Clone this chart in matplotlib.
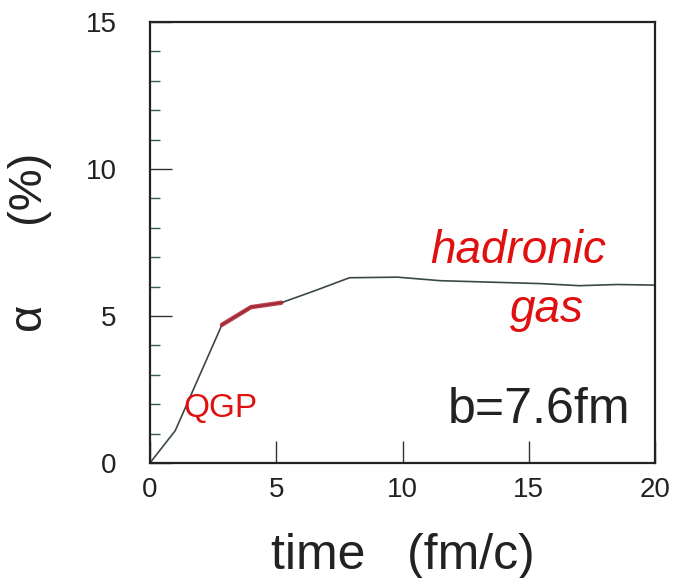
import matplotlib
matplotlib.use('Agg')
import matplotlib.pyplot as plt
from matplotlib.ticker import MultipleLocator

#
# DATA
#
time = [0, 1.0, 2.85, 4.0, 5.2, 6.5, 7.9, 9.8, 11.5, 13.5, 15.5, 17.0, 18.5, 20]
alpha = [0, 1.1, 4.7, 5.3, 5.45, 5.85, 6.3, 6.32, 6.2, 6.15, 6.1, 6.03, 6.07, 6.05]
marked = slice(2, 5)   # hand-marked part of the curve

x_ticks = [0, 5, 10, 15, 20]
y_ticks = [0, 5, 10, 15]

#
# FIGURE
#
plt.rcParams['font.family'] = ['Liberation Sans', 'DejaVu Sans']
fig = plt.figure(figsize=(6.75, 5.78), dpi=100)
ax = fig.add_axes([0.2222, 0.199, 0.7482, 0.763])

ax.plot(time, alpha, color='#3b4848', lw=1.2)
ax.plot(time[marked], alpha[marked], color='#b02030', lw=3.2, alpha=0.85,
        solid_capstyle='round')

ax.set_xlim(0, 20)
ax.set_ylim(0, 15)
ax.set_xticks(x_ticks)
ax.set_yticks(y_ticks)
ax.yaxis.set_minor_locator(MultipleLocator(1))
ax.tick_params(axis='both', which='major', direction='in', length=16, width=1.0,
               labelsize=20, color='#333333', labelcolor='#222222')
ax.tick_params(axis='x', which='major', pad=10)
ax.tick_params(axis='y', which='major', pad=24)
ax.tick_params(axis='y', which='minor', direction='in', length=7, width=1.0,
               color='#3b5858')
for s in ax.spines.values():
    s.set_linewidth(1.6)
    s.set_color('#222222')

ax.set_xlabel('time   (fm/c)', fontsize=36, color='#222222', labelpad=22)
ax.set_ylabel('α      (%)', fontsize=34, color='#222222', labelpad=24)

ax.text(0.95, 0.12, 'b=7.6fm', transform=ax.transAxes, fontsize=36,
        ha='right', va='center', color='#222222')

# red handwritten notes
ax.text(2.8, 1.85, 'QGP', fontsize=24, color='#e01010', ha='center', va='center')
ax.text(14.6, 7.2, 'hadronic', fontsize=33, color='#e01010', ha='center',
        va='center', style='italic')
ax.text(15.7, 5.2, 'gas', fontsize=33, color='#e01010', ha='center',
        va='center', style='italic')

fig.savefig('out.png', dpi=100)
